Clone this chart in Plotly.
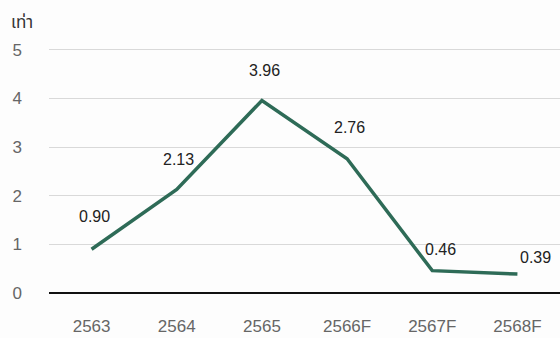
import plotly.graph_objects as go

# Ratio (times) by year, F = forecast
years = ["2563", "2564", "2565", "2566F", "2567F", "2568F"]
values = [0.90, 2.13, 3.96, 2.76, 0.46, 0.39]
y_ticks = [0, 1, 2, 3, 4, 5]

# Label offsets (px) relative to each point
label_dx = [3, 2, 3, 2, 8, 18]
label_dy = [33, 30, 30, 31, 21, 17]

line_color = "#2e6b57"
font_family = "Liberation Sans, Arial, Helvetica, sans-serif"

fig = go.Figure()
fig.add_trace(go.Scatter(
    x=years, y=values, mode="lines",
    line=dict(color=line_color, width=3.5),
    hoverinfo="skip",
))

# Category positions are indices on the category axis
for i, (v, dx, dy) in enumerate(zip(values, label_dx, label_dy)):
    fig.add_annotation(
        x=i, y=v, text=f"{v:.2f}", showarrow=False,
        xshift=dx, yshift=dy,
        font=dict(family=font_family, size=16, color="#222222"),
    )

fig.add_annotation(
    xref="paper", yref="paper", x=-0.078, y=1.04, xanchor="left", yanchor="bottom",
    text="เท่า", showarrow=False,
    font=dict(family="Noto Sans, Noto Sans Thai, sans-serif", size=17, color="#333333"),
)

fig.update_layout(
    width=560, height=338,
    margin=dict(l=49, r=0, t=45, b=45),
    paper_bgcolor="#fdfdfd", plot_bgcolor="#fdfdfd",
    showlegend=False,
    xaxis=dict(
        type="category", range=[-0.5, 5.5],
        showgrid=False, showline=False, zeroline=False, ticks="",
        tickfont=dict(family=font_family, size=17, color="#666666"),
        ticklabelstandoff=21,
    ),
    yaxis=dict(
        range=[0, 5.1], tickvals=y_ticks,
        showgrid=True, gridcolor="#d9d9d9", gridwidth=1,
        zeroline=True, zerolinecolor="#111111", zerolinewidth=1.5,
        showline=False, ticks="",
        tickfont=dict(family=font_family, size=17, color="#666666"),
        ticklabelstandoff=26,
    ),
)

fig.write_html("out.html")
